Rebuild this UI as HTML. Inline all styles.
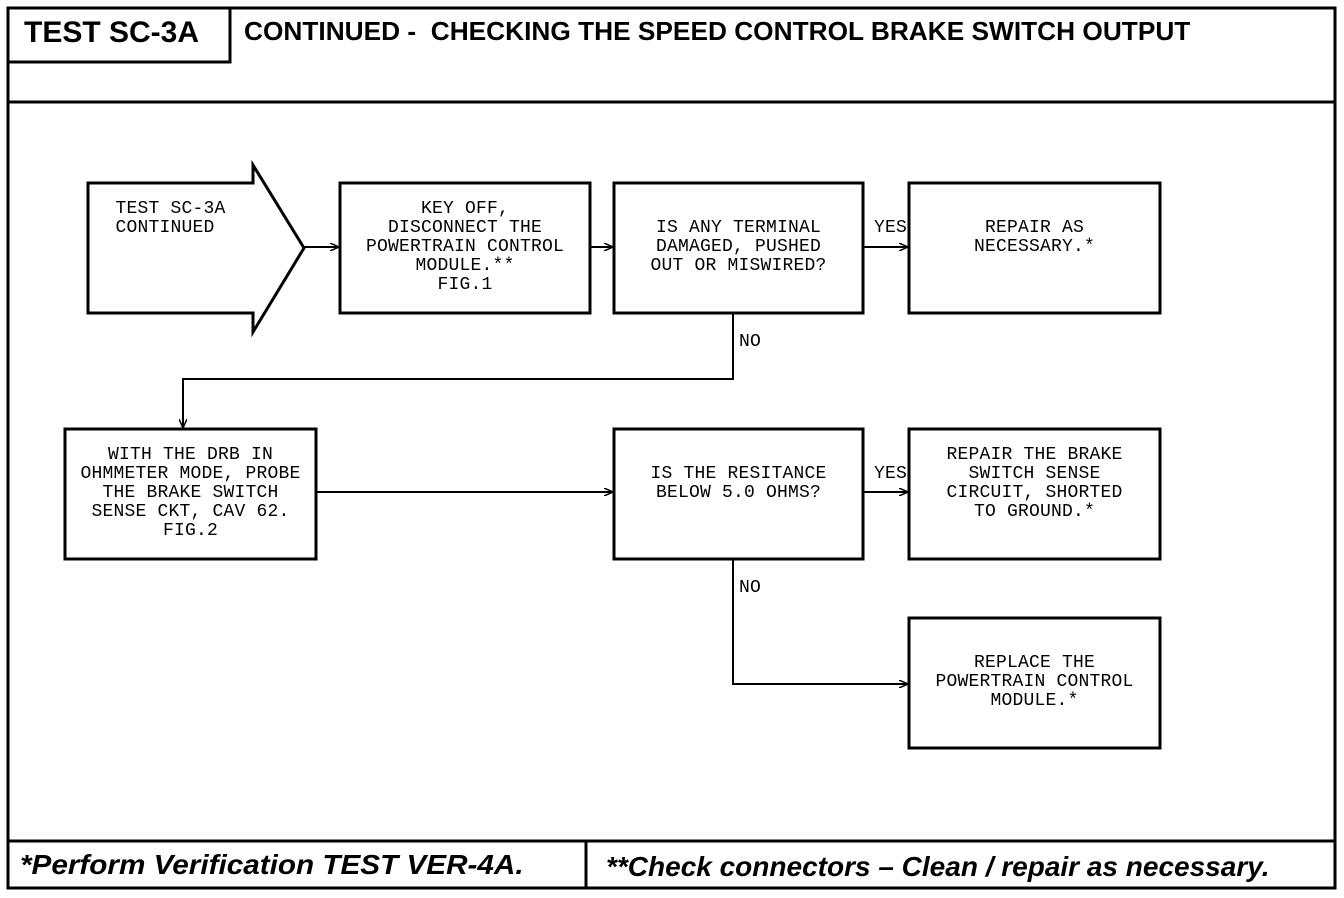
<!DOCTYPE html>
<html><head><style>
body{margin:0;background:#fff;width:1344px;height:898px;overflow:hidden;position:relative;font-family:"Liberation Sans",sans-serif}
.t{position:absolute;font-family:"Liberation Mono",monospace;font-size:18px;line-height:19px;text-align:center;color:#000;letter-spacing:0.2px}
.h{position:absolute;font-weight:bold;color:#000;transform-origin:0 0;white-space:nowrap}
</style></head><body>
<svg width="1344" height="898" style="position:absolute;left:0;top:0">
<defs><marker id="a" markerWidth="10" markerHeight="8" refX="9" refY="4" orient="auto" markerUnits="userSpaceOnUse"><path d="M0,0 L9,4 L0,8" fill="none" stroke="#000" stroke-width="1.5"/></marker></defs>
<g fill="none" stroke="#000" stroke-width="3">
<rect x="8" y="8" width="1327" height="880"/>
<line x1="8" y1="102" x2="1335" y2="102"/>
<path d="M8,62 H230 V8"/>
<line x1="8" y1="841" x2="1335" y2="841"/>
<line x1="586" y1="841" x2="586" y2="888"/>
<path d="M88,183 H253 V165 L304,248 L253,332 V313 H88 Z"/>
<rect x="340" y="183" width="250" height="130"/>
<rect x="614" y="183" width="249" height="130"/>
<rect x="909" y="183" width="251" height="130"/>
<rect x="65" y="429" width="251" height="130"/>
<rect x="614" y="429" width="249" height="130"/>
<rect x="909" y="429" width="251" height="130"/>
<rect x="909" y="618" width="251" height="130"/>
</g>
<g fill="none" stroke="#000" stroke-width="2" marker-end="url(#a)">
<line x1="304" y1="247" x2="339" y2="247"/>
<line x1="590" y1="247" x2="613" y2="247"/>
<line x1="863" y1="247" x2="908" y2="247"/>
<path d="M733,313 V379 H183 V428"/>
<line x1="316" y1="492" x2="613" y2="492"/>
<line x1="863" y1="492" x2="908" y2="492"/>
<path d="M733,559 V684 H908"/>
</g>
</svg>
<div class="h" style="left:24px;top:16px;font-size:30px;transform:scaleX(1.0)">TEST SC-3A</div>
<div class="h" style="left:244px;top:16px;font-size:26px;transform:scaleX(1.01)">CONTINUED -&nbsp; CHECKING THE SPEED CONTROL BRAKE SWITCH OUTPUT</div>
<div class="h" style="left:20px;top:849px;font-size:28px;font-style:italic;transform:scaleX(1.06)">*Perform Verification TEST VER-4A.</div>
<div class="h" style="left:606px;top:851px;font-size:28px;font-style:italic;transform:scaleX(1.0)">**Check connectors – Clean / repair as necessary.</div>
<div class="t" style="left:95px;top:200px;width:140px">&nbsp;TEST SC-3A<br>CONTINUED</div>
<div class="t" style="left:330px;top:200px;width:270px">KEY OFF,<br>DISCONNECT THE<br>POWERTRAIN CONTROL<br>MODULE.**<br>FIG.1</div>
<div class="t" style="left:604px;top:219px;width:269px">IS ANY TERMINAL<br>DAMAGED, PUSHED<br>OUT OR MISWIRED?</div>
<div class="t" style="left:899px;top:219px;width:271px">REPAIR AS<br>NECESSARY.*</div>
<div class="t" style="left:55px;top:446px;width:271px">WITH THE DRB IN<br>OHMMETER MODE, PROBE<br>THE BRAKE SWITCH<br>SENSE CKT, CAV 62.<br>FIG.2</div>
<div class="t" style="left:604px;top:465px;width:269px">IS THE RESITANCE<br>BELOW 5.0 OHMS?</div>
<div class="t" style="left:899px;top:446px;width:271px">REPAIR THE BRAKE<br>SWITCH SENSE<br>CIRCUIT, SHORTED<br>TO GROUND.*</div>
<div class="t" style="left:899px;top:654px;width:271px">REPLACE THE<br>POWERTRAIN CONTROL<br>MODULE.*</div>
<div class="t" style="left:874px;top:219px">YES</div>
<div class="t" style="left:874px;top:465px">YES</div>
<div class="t" style="left:739px;top:333px">NO</div>
<div class="t" style="left:739px;top:579px">NO</div>
</body></html>
